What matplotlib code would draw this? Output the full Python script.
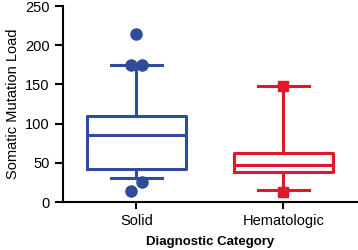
import numpy as np
import matplotlib
matplotlib.use("Agg")
import matplotlib.pyplot as plt

plt.rcParams['font.family'] = ['Liberation Sans', 'DejaVu Sans']

# box summary values
categories = ['Solid', 'Hematologic']
q1 = [42, 38]
median = [85, 47]
q3 = [110, 63]
whislo = [30, 15]
whishi = [175, 148]
outliers_solid = [214, 175, 175, 26, 14]
outliers_solid_dx = [0.0, -0.04, 0.04, 0.04, -0.04]
outliers_heme = [148, 13]
colors = ['#2F4C9B', '#E1182C']

fig = plt.figure(figsize=(3.58, 2.5), dpi=100)
ax = fig.add_axes([0.176, 0.192, 0.821, 0.784])

for i in range(2):
	stats = [dict(med=median[i], q1=q1[i], q3=q3[i], whislo=whislo[i], whishi=whishi[i], fliers=[])]
	c = colors[i]
	ax.bxp(stats, positions=[i], widths=0.67, showfliers=False, capwidths=0.35,
		boxprops=dict(color=c, linewidth=2.2),
		medianprops=dict(color=c, linewidth=2.2),
		whiskerprops=dict(color=c, linewidth=2.2),
		capprops=dict(color=c, linewidth=2.2))

ax.plot(np.array(outliers_solid_dx) + 0, outliers_solid, 'o', color=colors[0], markersize=8, zorder=5)
ax.plot([1, 1], outliers_heme, 's', color=colors[1], markersize=7.5, zorder=5)

ax.set_xlim(-0.5, 1.5)
ax.set_ylim(0, 250)
ax.set_yticks([0, 50, 100, 150, 200, 250])
ax.set_xticks([0, 1])
ax.set_xticklabels(categories)
ax.spines['top'].set_visible(False)
ax.spines['right'].set_visible(False)
ax.spines['left'].set_linewidth(1.5)
ax.spines['bottom'].set_linewidth(1.5)
ax.tick_params(axis='y', length=6, width=1.5, labelsize=10.5)
ax.tick_params(axis='x', length=5, width=1.5, labelsize=10.5)
ax.set_ylabel('Somatic Mutation Load', fontsize=10.5)
ax.set_xlabel('Diagnostic Category', fontsize=9.5, fontweight='bold', labelpad=6)

fig.savefig('out.png', dpi=100)
